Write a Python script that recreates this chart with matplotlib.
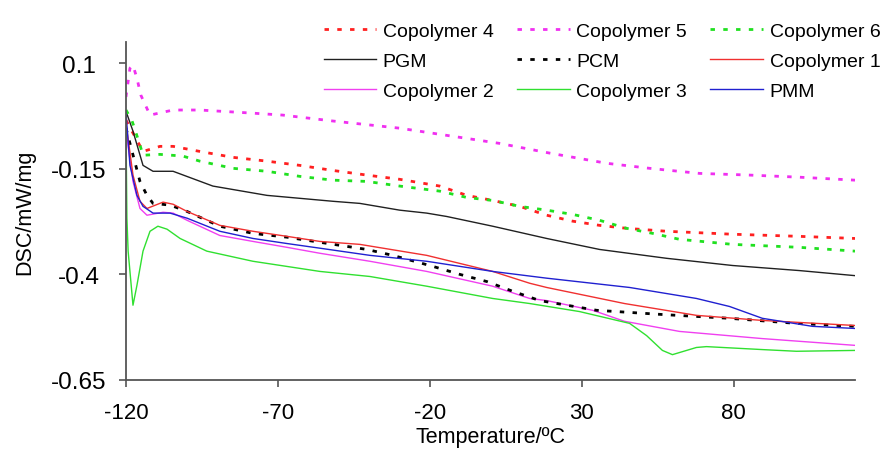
import matplotlib
matplotlib.use("Agg")
import matplotlib.pyplot as plt

plt.rcParams["font.family"] = ["Liberation Sans", "DejaVu Sans"]

# Temperature (degC) and DSC (mW/mg) values
c4_t = [-120, -114.4, -108.8, -104.5, -95.7, -84.8, -73.6, -62.8, -51.9, -40.7, -29.9,
        -16.7, -7.8, 0.7, 9.6, 18.5, 27.0, 35.9, 44.8, 58.0, 79.7, 101.7, 120]
c4_v = [-0.035, -0.109, -0.097, -0.097, -0.109, -0.123, -0.132, -0.142, -0.154, -0.165, -0.175,
        -0.191, -0.213, -0.225, -0.239, -0.260, -0.274, -0.284, -0.291, -0.298, -0.305, -0.310, -0.315]

c5_t = [-120, -118.7, -117.7, -116.4, -115.1, -112.1, -104.5, -95.7, -79.2, -68.4, -51.9,
        -29.9, -14.4, 3.0, 19.5, 38.2, 52.4, 68.8, 85.3, 101.7, 120]
c5_v = [0.020, 0.088, 0.095, 0.064, 0.024, -0.023, -0.011, -0.011, -0.018, -0.023, -0.037,
        -0.054, -0.071, -0.090, -0.113, -0.137, -0.149, -0.161, -0.165, -0.170, -0.177]

c6_t = [-120, -118.0, -115.4, -114.4, -108.8, -101.3, -95.7, -84.8, -73.6, -62.8, -51.9, -40.7,
        -29.9, -16.7, -7.8, 0.7, 9.6, 18.5, 27.0, 35.9, 44.8, 53.4, 62.2, 79.7, 101.7, 120]
c6_v = [-0.011, -0.037, -0.094, -0.118, -0.116, -0.120, -0.132, -0.149, -0.156, -0.168, -0.177, -0.180,
        -0.191, -0.203, -0.218, -0.225, -0.239, -0.248, -0.258, -0.272, -0.291, -0.303, -0.317,
        -0.329, -0.336, -0.345]

pgm_t = [-120, -117.7, -114.4, -111.1, -104.5, -91.4, -73.6, -51.9, -43.0, -29.9, -21.0,
         -14.4, 0.7, 18.5, 35.9, 58.0, 79.7, 101.7, 120]
pgm_v = [-0.014, -0.061, -0.142, -0.156, -0.156, -0.191, -0.213, -0.227, -0.232, -0.248, -0.255,
         -0.263, -0.286, -0.315, -0.341, -0.362, -0.379, -0.391, -0.403]

pcm_t = [-120, -118.0, -115.4, -113.1, -111.1, -105.5, -99.9, -89.1, -78.2, -67.0, -56.2, -40.7,
         -32.2, -27.6, -19.0, -10.1, -1.2, 7.3, 16.2, 25.1, 34.9, 56.6, 78.7, 100.7, 120]
pcm_v = [-0.054, -0.109, -0.180, -0.213, -0.232, -0.236, -0.251, -0.286, -0.303, -0.312, -0.324, -0.341,
         -0.355, -0.364, -0.381, -0.400, -0.417, -0.440, -0.462, -0.473, -0.485, -0.495, -0.504,
         -0.516, -0.523]

c1_t = [-120, -117.7, -115.4, -113.1, -107.8, -104.5, -99.9, -89.1, -78.2, -67.0, -56.2, -43.0,
        -21.0, 0.7, 12.9, 18.5, 44.1, 67.8, 89.5, 120]
c1_v = [-0.042, -0.165, -0.227, -0.244, -0.229, -0.234, -0.251, -0.284, -0.298, -0.310, -0.322, -0.329,
        -0.355, -0.393, -0.421, -0.431, -0.469, -0.497, -0.509, -0.521]

c2_t = [-120, -117.7, -115.4, -113.1, -107.8, -104.5, -99.9, -89.1, -78.2, -67.0, -56.2, -39.7,
        -21.0, 0.7, 12.9, 18.5, 33.6, 44.1, 62.2, 89.5, 120]
c2_v = [-0.061, -0.180, -0.244, -0.260, -0.253, -0.255, -0.272, -0.308, -0.322, -0.336, -0.350, -0.369,
        -0.393, -0.428, -0.457, -0.462, -0.485, -0.511, -0.535, -0.552, -0.568]

c3_t = [-120, -119.7, -119.3, -117.7, -116.4, -114.4, -112.1, -109.5, -106.5, -102.2, -93.4, -78.2,
        -56.2, -39.7, -21.0, 0.7, 12.9, 29.3, 45.8, 51.4, 56.6, 59.9, 67.8, 71.1, 89.5, 100.7, 120]
c3_v = [-0.054, -0.267, -0.345, -0.473, -0.426, -0.345, -0.298, -0.286, -0.293, -0.315, -0.345, -0.369,
        -0.393, -0.405, -0.428, -0.457, -0.469, -0.488, -0.516, -0.545, -0.580, -0.590, -0.573,
        -0.571, -0.578, -0.582, -0.580]

pmm_t = [-120, -118.7, -116.4, -114.4, -111.1, -105.5, -99.9, -89.1, -78.2, -67.0, -56.2, -39.7,
         -21.0, 0.7, 18.5, 45.8, 67.8, 78.7, 89.5, 106.0, 120]
pmm_v = [-0.018, -0.142, -0.213, -0.239, -0.255, -0.255, -0.267, -0.298, -0.315, -0.327, -0.338, -0.355,
         -0.369, -0.393, -0.409, -0.431, -0.457, -0.476, -0.504, -0.523, -0.528]

x_ticks = [-120, -70, -20, 30, 80]
y_ticks = [0.1, -0.15, -0.4, -0.65]
y_tick_labels = ["0.1", "-0.15", "-0.4", "-0.65"]

DOT = (0, (1.6, 3.0))


def main():
    fig = plt.figure(figsize=(8.86, 4.52), dpi=100)
    ax = fig.add_axes([126 / 886, 1 - 381 / 452, (855 - 126) / 886, (381 - 43) / 452])

    # legend is filled column by column, so plot in that order
    series = [
        (c4_t, c4_v, "Copolymer 4", "#ff2020", DOT, 2.0),
        (pgm_t, pgm_v, "PGM", "#202020", "-", 1.0),
        (c2_t, c2_v, "Copolymer 2", "#f040f0", "-", 1.0),
        (c5_t, c5_v, "Copolymer 5", "#f030f0", DOT, 2.0),
        (pcm_t, pcm_v, "PCM", "#000000", DOT, 2.0),
        (c3_t, c3_v, "Copolymer 3", "#30e030", "-", 1.0),
        (c6_t, c6_v, "Copolymer 6", "#20e020", DOT, 2.0),
        (c1_t, c1_v, "Copolymer 1", "#f03030", "-", 1.0),
        (pmm_t, pmm_v, "PMM", "#2020d0", "-", 1.0),
    ]
    for t, v, label, color, ls, lw in series:
        ax.plot(t, v, color=color, linestyle=ls, linewidth=lw, label=label)

    ax.set_xlim(-120, 120)
    ax.set_ylim(-0.65, 0.15)
    ax.set_xticks(x_ticks)
    ax.set_xticklabels([str(t) for t in x_ticks])
    ax.set_yticks(y_ticks)
    ax.set_yticklabels(y_tick_labels, ha="center")
    ax.tick_params(direction="out", length=5, width=1.2, color="#555555")
    ax.tick_params(axis="x", labelsize=16, pad=11)
    ax.tick_params(axis="y", labelsize=17.5, pad=29)

    for side in ["top", "right"]:
        ax.spines[side].set_visible(False)
    for side in ["left", "bottom"]:
        ax.spines[side].set_color("#555555")
        ax.spines[side].set_linewidth(1.3)

    ax.set_xlabel("Temperature/ºC", fontsize=15.5, labelpad=2)
    ax.set_ylabel("DSC/mW/mg", fontsize=15.5)
    ax.yaxis.set_label_coords(-0.125, 0.5)

    ax.legend(loc="center", bbox_to_anchor=(602 / 886, 1 - 62 / 452),
              bbox_transform=fig.transFigure, ncol=3, frameon=False,
              fontsize=14, handlelength=2.7, handletextpad=0.35,
              columnspacing=1.2, labelspacing=0.63, borderpad=0, borderaxespad=0)

    fig.savefig("out.png", dpi=100)
    print("Saved plot to out.png")


if __name__ == "__main__":
    main()
